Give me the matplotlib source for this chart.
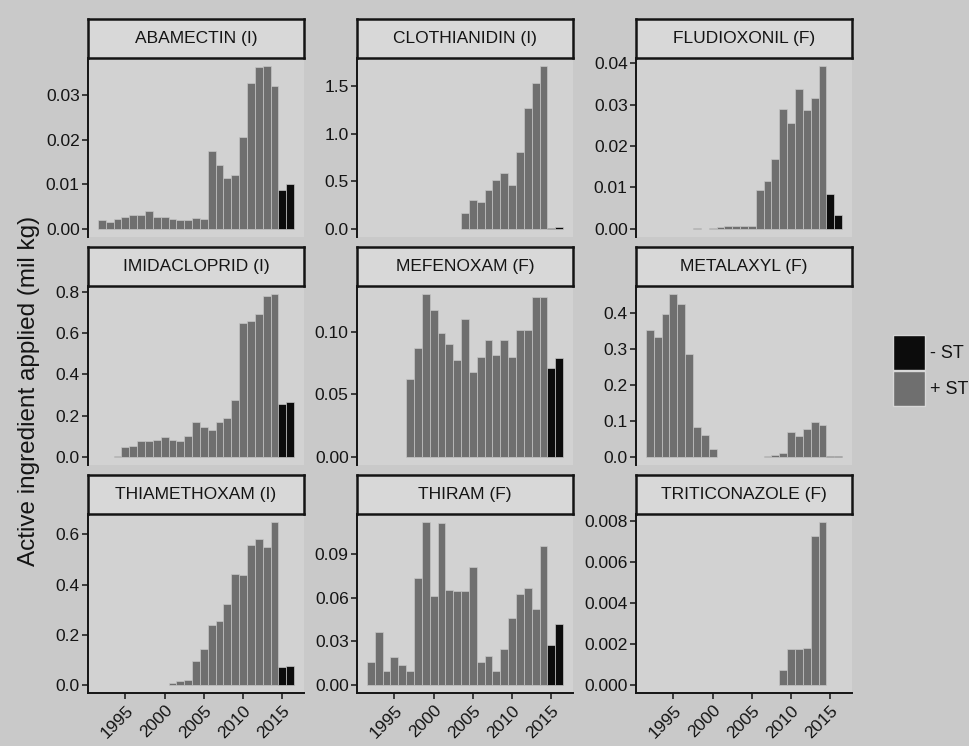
import numpy as np
import matplotlib.pyplot as plt
from matplotlib.ticker import MultipleLocator, FormatStrFormatter

plt.rcParams['font.family'] = ['Liberation Sans', 'DejaVu Sans']

nan = np.nan
years_st = np.arange(1992, 2015)      # with seed treatments (+ ST)
years_nost = np.array([2015, 2016])   # without seed treatments (- ST)

# values in million kg, +ST for 1992-2014, -ST for 2015-2016
abamectin_st = [0.0019, 0.0016, 0.0023, 0.0027, 0.0032, 0.0032, 0.0041, 0.0026,
                0.0026, 0.0022, 0.0021, 0.0019, 0.0025, 0.0022, 0.0176, 0.0144,
                0.0114, 0.0121, 0.0206, 0.0328, 0.0363, 0.0366, 0.0322]
abamectin_nost = [0.0088, 0.0101]

clothianidin_st = [nan] * 12 + [0.17, 0.30, 0.28, 0.41, 0.51, 0.59, 0.46, 0.81,
                                1.27, 1.53, 1.71]
clothianidin_nost = [0.012, 0.02]

fludioxonil_st = [nan] * 6 + [0.0003, nan, 0.0002, 0.0004, 0.0006, 0.0007, 0.0007,
                              0.0008, 0.0095, 0.0115, 0.0168, 0.0289, 0.0256,
                              0.0338, 0.0287, 0.0316, 0.0393]
fludioxonil_nost = [0.0085, 0.0034]

imidacloprid_st = [nan, nan, 0.006, 0.048, 0.052, 0.076, 0.076, 0.081, 0.097,
                   0.081, 0.079, 0.101, 0.168, 0.146, 0.130, 0.168, 0.190, 0.274,
                   0.648, 0.661, 0.693, 0.781, 0.789]
imidacloprid_nost = [0.257, 0.265]

mefenoxam_st = [nan] * 5 + [0.062, 0.087, 0.130, 0.117, 0.099, 0.090, 0.0775,
                            0.110, 0.068, 0.080, 0.093, 0.081, 0.093, 0.080,
                            0.101, 0.101, 0.128, 0.128]
mefenoxam_nost = [0.0706, 0.079]

metalaxyl_st = [0.353, 0.335, 0.397, 0.453, 0.426, 0.287, 0.082, 0.061, 0.023,
                nan, nan, nan, nan, nan, nan, 0.002, 0.005, 0.012, 0.069, 0.057,
                0.077, 0.098, 0.089]
metalaxyl_nost = [0.003, 0.003]

thiamethoxam_st = [nan] * 9 + [0.007, 0.017, 0.020, 0.096, 0.142, 0.237, 0.254,
                               0.321, 0.442, 0.439, 0.557, 0.583, 0.549, 0.649]
thiamethoxam_nost = [0.072, 0.076]

thiram_st = [0.0157, 0.0368, 0.0094, 0.0189, 0.0138, 0.0099, 0.0739, 0.1123,
             0.0612, 0.1117, 0.0656, 0.0647, 0.0649, 0.0813, 0.0161, 0.0198,
             0.0099, 0.0249, 0.0458, 0.0624, 0.0670, 0.0525, 0.0958]
thiram_nost = [0.0272, 0.0419]

triticonazole_st = [nan] * 17 + [0.00075, 0.00176, 0.00174, 0.00182, 0.00725,
                                 0.00795]
triticonazole_nost = [nan, nan]

titles = ['ABAMECTIN (I)', 'CLOTHIANIDIN (I)', 'FLUDIOXONIL (F)',
          'IMIDACLOPRID (I)', 'MEFENOXAM (F)', 'METALAXYL (F)',
          'THIAMETHOXAM (I)', 'THIRAM (F)', 'TRITICONAZOLE (F)']
st_series = [abamectin_st, clothianidin_st, fludioxonil_st, imidacloprid_st,
             mefenoxam_st, metalaxyl_st, thiamethoxam_st, thiram_st,
             triticonazole_st]
nost_series = [abamectin_nost, clothianidin_nost, fludioxonil_nost,
               imidacloprid_nost, mefenoxam_nost, metalaxyl_nost,
               thiamethoxam_nost, thiram_nost, triticonazole_nost]
y_steps = [0.01, 0.5, 0.01, 0.2, 0.05, 0.1, 0.2, 0.03, 0.002]
y_decimals = [2, 1, 2, 1, 2, 1, 1, 2, 3]
x_ticks = [1995, 2000, 2005, 2010, 2015]

W, H = 969, 746
page = '#c9c9c9'
panel_bg = '#d2d2d2'
bar_gray = '#6f6f6f'
bar_black = '#0c0c0c'
ink = '#141414'

fig = plt.figure(figsize=(W / 100, H / 100), dpi=100, facecolor=page)

col_left = [88, 357, 636]
panel_w = 216
row_top = [58, 286, 514]
panel_h = 179
strip_h = 39

for i, title in enumerate(titles):
    r, c = divmod(i, 3)
    left = col_left[c]
    top = row_top[r]
    ax = fig.add_axes([left / W, 1 - (top + panel_h) / H, panel_w / W, panel_h / H])
    ax.set_facecolor(panel_bg)

    st = np.array(st_series[i], dtype=float)
    nost = np.array(nost_series[i], dtype=float)
    ax.bar(years_st, st, width=1.0, color=bar_gray, edgecolor='#c4c4c4', linewidth=0.5)
    ax.bar(years_nost, nost, width=1.0, color=bar_black, edgecolor='#c4c4c4', linewidth=0.5)

    ymax = np.nanmax(np.concatenate([st, nost]))
    ax.set_ylim(-0.05 * ymax, 1.05 * ymax)
    ax.set_xlim(1990.25, 2017.75)
    ax.yaxis.set_major_locator(MultipleLocator(y_steps[i]))
    ax.yaxis.set_major_formatter(FormatStrFormatter('%%.%df' % y_decimals[i]))
    ax.tick_params(axis='y', direction='out', length=4, width=1.1, colors=ink,
                   labelsize=12.5, pad=2)

    for s in ['top', 'right']:
        ax.spines[s].set_visible(False)
    ax.spines['left'].set_linewidth(1.4)
    ax.spines['left'].set_color(ink)

    if r == 2:
        ax.spines['bottom'].set_linewidth(1.4)
        ax.spines['bottom'].set_color(ink)
        ax.set_xticks(x_ticks)
        ax.set_xticklabels([str(t) for t in x_ticks], rotation=45, ha='right',
                           rotation_mode='anchor')
        ax.tick_params(axis='x', direction='out', length=4, width=1.1, colors=ink,
                       labelsize=12.5, pad=3)
    else:
        ax.spines['bottom'].set_visible(False)
        ax.set_xticks([])

    # facet strip
    sax = fig.add_axes([left / W, 1 - top / H, panel_w / W, strip_h / H])
    sax.set_facecolor('#d8d8d8')
    sax.set_xticks([])
    sax.set_yticks([])
    for s in sax.spines.values():
        s.set_linewidth(1.8)
        s.set_color(ink)
    sax.text(0.5, 0.5, title, ha='center', va='center', fontsize=12.5,
             color=ink, transform=sax.transAxes)

fig.text(29 / W, 1 - 391 / H, 'Active ingredient applied (mil kg)', rotation=90,
         ha='center', va='center', fontsize=17.5, color=ink)

# legend
leg_x, leg_w = 893, 32
for k, (lab, col) in enumerate([('- ST', bar_black), ('+ ST', bar_gray)]):
    y0 = 335 + k * 36
    fig.patches.append(plt.Rectangle((leg_x / W, 1 - (y0 + 35) / H), leg_w / W, 35 / H,
                                     transform=fig.transFigure, facecolor=col,
                                     edgecolor='#d8d8d8', linewidth=1))
    fig.text((leg_x + leg_w + 5) / W, 1 - (y0 + 18) / H, lab, ha='left',
             va='center', fontsize=13, color=ink)

fig.savefig('out.png', dpi=100, facecolor=page)
